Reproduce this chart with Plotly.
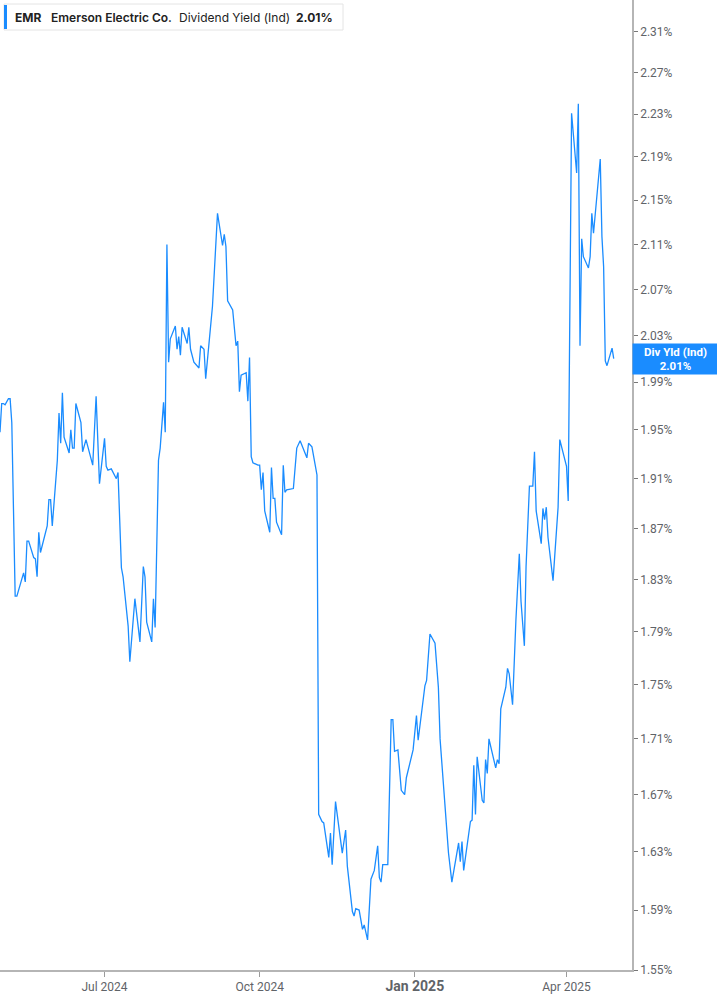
"""
EMR dividend yield (indicated), last 12 months, log scale on the right.
"""
import numpy as np
import plotly.graph_objects as go

dates = [
    "2024-04-30", "2024-05-01", "2024-05-02", "2024-05-03", "2024-05-05", "2024-05-06",
    "2024-05-07", "2024-05-09", "2024-05-10", "2024-05-14", "2024-05-15", "2024-05-16",
    "2024-05-17", "2024-05-20", "2024-05-21", "2024-05-22", "2024-05-23", "2024-05-24",
    "2024-05-28", "2024-05-29", "2024-05-30", "2024-05-31", "2024-06-03", "2024-06-04",
    "2024-06-05", "2024-06-06", "2024-06-07", "2024-06-10", "2024-06-11", "2024-06-12",
    "2024-06-13", "2024-06-14", "2024-06-17", "2024-06-18", "2024-06-20", "2024-06-24",
    "2024-06-26", "2024-06-28", "2024-07-01", "2024-07-02", "2024-07-03", "2024-07-05",
    "2024-07-08", "2024-07-09", "2024-07-11", "2024-07-12", "2024-07-15", "2024-07-16",
    "2024-07-19", "2024-07-22", "2024-07-24", "2024-07-25", "2024-07-26", "2024-07-29",
    "2024-07-30", "2024-07-31", "2024-08-02", "2024-08-03", "2024-08-05", "2024-08-06",
    "2024-08-07", "2024-08-08", "2024-08-09", "2024-08-12", "2024-08-13", "2024-08-14",
    "2024-08-15", "2024-08-16", "2024-08-19", "2024-08-20", "2024-08-21", "2024-08-23",
    "2024-08-26", "2024-08-27", "2024-08-29", "2024-08-30", "2024-09-03", "2024-09-06",
    "2024-09-09", "2024-09-10", "2024-09-11", "2024-09-12", "2024-09-15", "2024-09-17",
    "2024-09-18", "2024-09-19", "2024-09-20", "2024-09-23", "2024-09-24", "2024-09-25",
    "2024-09-26", "2024-09-27", "2024-09-30", "2024-10-01", "2024-10-02", "2024-10-03",
    "2024-10-04", "2024-10-07", "2024-10-08", "2024-10-09", "2024-10-10", "2024-10-11",
    "2024-10-14", "2024-10-15", "2024-10-16", "2024-10-17", "2024-10-21", "2024-10-23",
    "2024-10-25", "2024-10-29", "2024-10-30", "2024-11-01", "2024-11-04", "2024-11-05",
    "2024-11-07", "2024-11-08", "2024-11-11", "2024-11-12", "2024-11-13", "2024-11-15",
    "2024-11-19", "2024-11-21", "2024-11-22", "2024-11-25", "2024-11-26", "2024-11-27",
    "2024-11-29", "2024-12-01", "2024-12-02", "2024-12-04", "2024-12-06", "2024-12-08",
    "2024-12-10", "2024-12-11", "2024-12-12", "2024-12-13", "2024-12-16", "2024-12-18",
    "2024-12-19", "2024-12-20", "2024-12-22", "2024-12-24", "2024-12-26", "2024-12-27",
    "2024-12-31", "2025-01-02", "2025-01-03", "2025-01-05", "2025-01-07", "2025-01-08",
    "2025-01-10", "2025-01-13", "2025-01-15", "2025-01-16", "2025-01-21", "2025-01-23",
    "2025-01-27", "2025-01-28", "2025-01-29", "2025-01-30", "2025-02-03", "2025-02-04",
    "2025-02-05", "2025-02-06", "2025-02-07", "2025-02-10", "2025-02-11", "2025-02-12",
    "2025-02-13", "2025-02-14", "2025-02-18", "2025-02-19", "2025-02-20", "2025-02-21",
    "2025-02-24", "2025-02-25", "2025-02-26", "2025-02-28", "2025-03-01", "2025-03-02",
    "2025-03-04", "2025-03-05", "2025-03-07", "2025-03-08", "2025-03-10", "2025-03-12",
    "2025-03-13", "2025-03-14", "2025-03-17", "2025-03-18", "2025-03-19", "2025-03-20",
    "2025-03-21", "2025-03-24", "2025-03-27", "2025-03-28", "2025-04-01", "2025-04-02",
    "2025-04-04", "2025-04-07", "2025-04-08", "2025-04-09", "2025-04-10", "2025-04-11",
    "2025-04-14", "2025-04-15", "2025-04-16", "2025-04-17", "2025-04-21", "2025-04-22",
    "2025-04-23", "2025-04-24", "2025-04-25", "2025-04-28", "2025-04-29",
]
yld = [
    1.948, 1.972, 1.972, 1.971, 1.976, 1.976,
    1.956, 1.817, 1.817, 1.835, 1.828, 1.860,
    1.860, 1.847, 1.846, 1.832, 1.867, 1.851,
    1.872, 1.893, 1.893, 1.872, 1.925, 1.964,
    1.939, 1.981, 1.944, 1.931, 1.950, 1.935,
    1.935, 1.972, 1.956, 1.932, 1.942, 1.921,
    1.978, 1.906, 1.943, 1.920, 1.917, 1.918,
    1.910, 1.915, 1.839, 1.832, 1.794, 1.767,
    1.815, 1.782, 1.840, 1.832, 1.797, 1.782,
    1.815, 1.793, 1.925, 1.935, 1.973, 1.948,
    2.110, 2.007, 2.027, 2.038, 2.018, 2.029,
    2.013, 2.037, 2.023, 2.037, 2.018, 2.007,
    2.002, 2.021, 2.018, 1.993, 2.055, 2.138,
    2.109, 2.119, 2.108, 2.060, 2.052, 2.021,
    2.025, 1.982, 1.996, 1.998, 1.974, 2.011,
    1.928, 1.923, 1.921, 1.921, 1.901, 1.915,
    1.884, 1.867, 1.919, 1.894, 1.894, 1.875,
    1.865, 1.921, 1.899, 1.901, 1.902, 1.935,
    1.941, 1.927, 1.939, 1.936, 1.913, 1.656,
    1.651, 1.650, 1.626, 1.643, 1.621, 1.665,
    1.629, 1.645, 1.620, 1.589, 1.586, 1.591,
    1.590, 1.577, 1.580, 1.570, 1.611, 1.617,
    1.634, 1.612, 1.609, 1.621, 1.621, 1.724,
    1.724, 1.701, 1.702, 1.673, 1.670, 1.682,
    1.702, 1.727, 1.709, 1.727, 1.749, 1.753,
    1.788, 1.781, 1.748, 1.710, 1.629, 1.609,
    1.636, 1.623, 1.637, 1.617, 1.651, 1.652,
    1.691, 1.656, 1.697, 1.666, 1.664, 1.695,
    1.685, 1.710, 1.689, 1.695, 1.692, 1.732,
    1.748, 1.762, 1.758, 1.735, 1.769, 1.799,
    1.850, 1.813, 1.779, 1.840, 1.904, 1.904,
    1.932, 1.884, 1.858, 1.886, 1.877, 1.887,
    1.863, 1.829, 1.887, 1.942, 1.920, 1.892,
    2.231, 2.175, 2.240, 2.021, 2.115, 2.099,
    2.089, 2.099, 2.138, 2.120, 2.188, 2.117,
    2.090, 2.008, 2.004, 2.019, 2.010,
]

y_ticks = [1.55, 1.59, 1.63, 1.67, 1.71, 1.75, 1.79, 1.83, 1.87, 1.91,
           1.95, 1.99, 2.03, 2.07, 2.11, 2.15, 2.19, 2.23, 2.27, 2.31]
x_ticks = ["2024-07-01", "2024-10-01", "2025-01-01", "2025-04-01"]
x_labels = ["Jul 2024", "Oct 2024",
            "<span style='font-size:14px'><b>Jan 2025</b></span>", "Apr 2025"]

BLUE = "#1a8cff"
W, H = 717, 1005
PW, PH = 632, 970          # plot area in px


def px(x):  # px -> paper x
    return x / PW


def py(y):  # px -> paper y
    return 1 - y / PH


last = yld[-1]

fig = go.Figure()
fig.add_trace(go.Scatter(x=dates, y=yld, mode="lines",
                         line=dict(color=BLUE, width=1.3),
                         hoverinfo="x+y", showlegend=False))

fig.update_xaxes(
    type="date", range=["2024-04-30", "2025-05-09 20:00"],
    tickvals=x_ticks, ticktext=x_labels,
    showgrid=False, zeroline=False,
    showline=True, linecolor="#b5b5b5", linewidth=2,
    ticks="outside", ticklen=5, tickcolor="#9a9a9a", tickwidth=1,
    tickfont=dict(family="Roboto", size=12, color="#5f6368"),
)
fig.update_yaxes(
    type="log", side="right",
    range=[np.log10(1.55), np.log10(2.341)],
    tickvals=y_ticks, ticktext=[f"{v:.2f}%" for v in y_ticks],
    showgrid=False, zeroline=False,
    showline=True, linecolor="#b5b5b5", linewidth=1.5,
    ticks="outside", ticklen=4, tickcolor="#777777", tickwidth=1,
    tickfont=dict(family="Roboto", size=12, color="#5f6368"),
)

# header box, top-left
fig.add_shape(type="rect", xref="paper", yref="paper",
              x0=px(4), x1=px(343), y0=py(30), y1=py(4),
              line=dict(color="#e4e4e4", width=1), fillcolor="white")
fig.add_shape(type="rect", xref="paper", yref="paper",
              x0=px(4), x1=px(7), y0=py(29), y1=py(5),
              line=dict(width=0), fillcolor=BLUE)
parts = [(13, "EMR", 650), (49, "Emerson Electric Co.", 600),
         (177, "Dividend Yield (Ind)", 400), (294, f"{last:.2f}%", 650)]
for x0, txt, wt in parts:
    fig.add_annotation(xref="paper", yref="paper", x=px(x0), y=py(17),
                       xanchor="left", yanchor="middle", showarrow=False,
                       text=txt,
                       font=dict(family="Inter", size=12, weight=wt,
                                 color="#222222"))

# last value tag on the right axis
fig.add_annotation(xref="paper", yref="y", x=1, y=np.log10(last),
                   xanchor="left", yanchor="middle", showarrow=False,
                   text=f"<b>Div Yld (Ind)</b><br><b>{last:.2f}%</b>",
                   font=dict(family="Roboto", size=11.5, color="white"),
                   bgcolor=BLUE, width=81, height=26, borderpad=2,
                   align="center")

fig.update_layout(
    width=W, height=H,
    margin=dict(l=0, r=W - PW, t=0, b=H - PH),
    paper_bgcolor="white", plot_bgcolor="white",
    font=dict(family="Roboto"),
)
fig.write_html("out.html", config={"displayModeBar": False},
               post_script="document.body.style.margin='0';")
